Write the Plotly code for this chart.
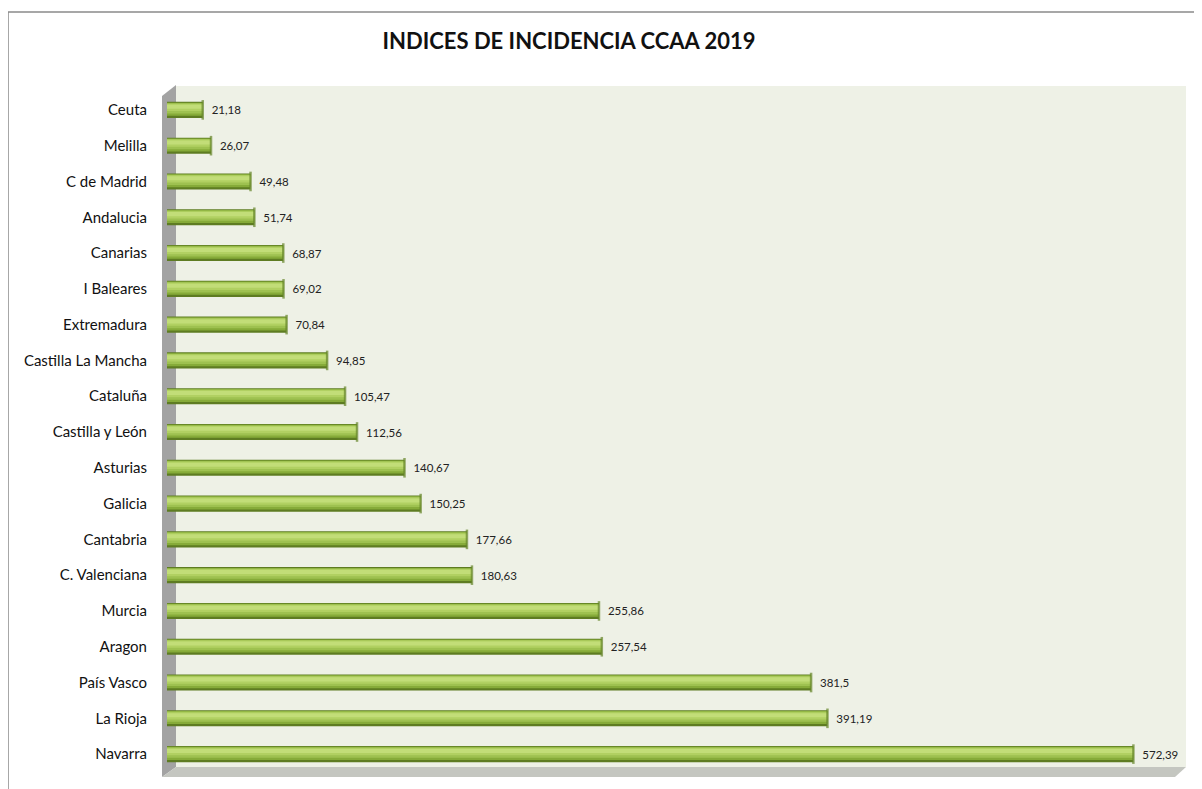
import plotly.graph_objects as go

categories = ["Ceuta", "Melilla", "C de Madrid", "Andalucia", "Canarias", "I Baleares",
              "Extremadura", "Castilla La Mancha", "Cataluña", "Castilla y León", "Asturias",
              "Galicia", "Cantabria", "C. Valenciana", "Murcia", "Aragon", "País Vasco",
              "La Rioja", "Navarra"]
values = [21.18, 26.07, 49.48, 51.74, 68.87, 69.02, 70.84, 94.85, 105.47, 112.56, 140.67,
          150.25, 177.66, 180.63, 255.86, 257.54, 381.5, 391.19, 572.39]
labels = [f"{v:g}".replace(".", ",") for v in values]
title = "INDICES DE INCIDENCIA CCAA 2019"

OFF = 8  # page body margin
W, H = 1202 - OFF, 789 - OFF
# plot area in reference pixel coordinates
PL, PR, PT, PB = 167, 1180, 92, 772
L, R, T, B = PL - OFF, W - (PR - OFF), PT - OFF, H - (PB - OFF)

def px(x):
    return (x - PL) / (PR - PL)

def py(y):
    return 1 - (y - PT) / (PB - PT)

FONT = "Lato"
fig = go.Figure()

BW = 0.45
layers = [(0.0, 1.0, "#5E7C22"), (0.05, 0.86, "#86AB39"), (0.08, 0.72, "#9EC150"),
          (0.12, 0.57, "#B1D062"), (0.18, 0.43, "#C2DD78")]
for i, (f0, f1, col) in enumerate(layers):
    fig.add_trace(go.Bar(
        x=values, y=categories, orientation="h",
        width=(f1 - f0) * BW, offset=-BW / 2 + f0 * BW,
        marker=dict(color=col, line=dict(width=0)),
        text=labels if i == 0 else None,
        texttemplate="  %{text}" if i == 0 else None,
        textposition="outside" if i == 0 else "none",
        textfont=dict(family=FONT, size=11.5, color="#222222"),
        cliponaxis=False, hoverinfo="x+y", showlegend=False,
    ))

# rounded end of the cylinders
fig.add_trace(go.Scatter(
    x=values, y=categories, mode="markers",
    marker=dict(symbol="line-ns", size=[14] * len(values),
                line=dict(color="#66862A", width=2.5)),
    showlegend=False, hoverinfo="skip", cliponaxis=False,
))

shapes = [
    # back wall
    dict(type="rect", xref="paper", yref="paper", x0=px(176), x1=px(1186), y0=py(767), y1=py(86),
         fillcolor="#EEF1E6", line=dict(width=0), layer="below"),
    # left wall
    dict(type="path", xref="paper", yref="paper",
         path=f"M {px(162)},{py(96)} L {px(176)},{py(85)} L {px(176)},{py(767)} L {px(162)},{py(777)} Z",
         fillcolor="#A3A3A3", line=dict(width=0), layer="below"),
    # floor
    dict(type="path", xref="paper", yref="paper",
         path=f"M {px(162)},{py(777)} L {px(176)},{py(767)} L {px(1186)},{py(767)} L {px(1175)},{py(777)} Z",
         fillcolor="#C4C6C0", line=dict(width=0), layer="below"),
    # outer border lines
    dict(type="line", xref="paper", yref="paper", x0=px(8), x1=px(1202), y0=py(12), y1=py(12),
         line=dict(color="#8A8A8A", width=1.5)),
    dict(type="line", xref="paper", yref="paper", x0=px(8), x1=px(8), y0=py(12), y1=py(789),
         line=dict(color="#8A8A8A", width=1.5)),
]

fig.update_layout(
    width=W, height=H,
    margin=dict(l=L, r=R, t=T, b=B, autoexpand=False),
    paper_bgcolor="white", plot_bgcolor="rgba(0,0,0,0)",
    barmode="overlay",
    title=dict(text=f"<b>{title}</b>", x=(569 - OFF) / W, xanchor="center",
               y=1 - (41 - OFF) / H, yanchor="middle",
               xref="container", yref="container",
               font=dict(family=FONT, size=22, color="#111111")),
    xaxis=dict(range=[0, 600], visible=False, showgrid=False, zeroline=False),
    yaxis=dict(autorange=False, range=[18.5, -0.5], showgrid=False, zeroline=False,
               showline=False, ticks="", ticklabelstandoff=19,
               tickfont=dict(family=FONT, size=15, color="#111111")),
    shapes=shapes,
)

fig.write_html("out.html")
